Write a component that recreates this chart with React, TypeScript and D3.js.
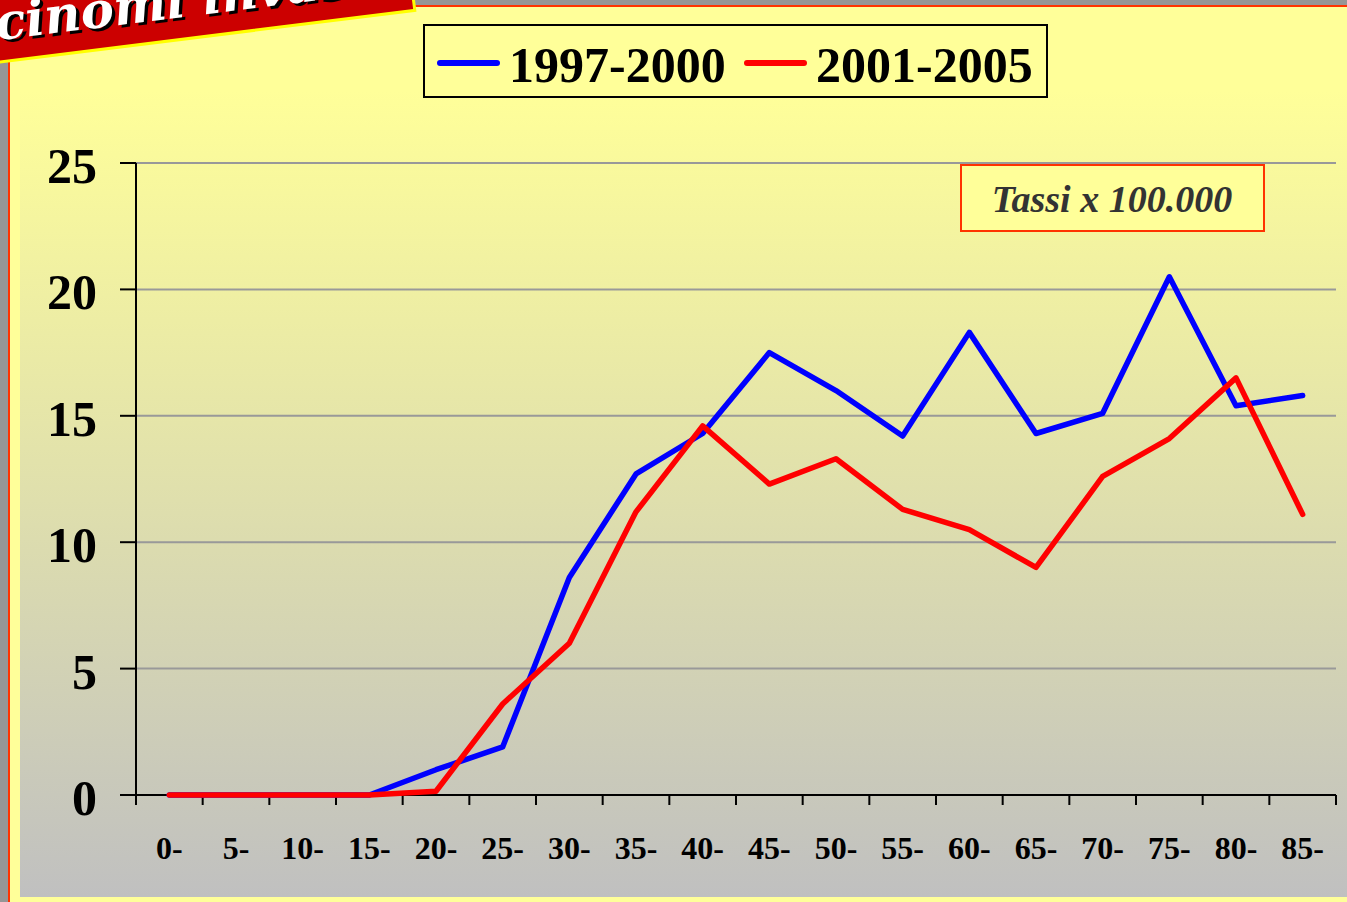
import React from "react";
import * as d3 from "d3";

const ageGroups = ["0-", "5-", "10-", "15-", "20-", "25-", "30-", "35-", "40-", "45-", "50-", "55-", "60-", "65-", "70-", "75-", "80-", "85-"];
const rates1997 = [0, 0, 0, 0, 1.0, 1.9, 8.6, 12.7, 14.3, 17.5, 16.0, 14.2, 18.3, 14.3, 15.1, 20.5, 15.4, 15.8];
const rates2001 = [0, 0, 0, 0, 0.15, 3.6, 6.0, 11.2, 14.6, 12.3, 13.3, 11.3, 10.5, 9.0, 12.6, 14.1, 16.5, 11.1];
const yTicks = [0, 5, 10, 15, 20, 25];
const seriesNames = ["1997-2000", "2001-2005"];
const seriesColors = ["#0000FF", "#FF0000"];

const W = 1347;
const H = 902;
const margins = { top: 163, right: 11, bottom: 107, left: 136 };

const App = () => {
  const xScale = d3
    .scaleBand()
    .domain(ageGroups)
    .range([margins.left, W - margins.right]);

  const yScale = d3
    .scaleLinear()
    .domain([0, 25])
    .range([H - margins.bottom, margins.top]);

  const cx = (i: number) => (xScale(ageGroups[i]) as number) + xScale.bandwidth() / 2;

  const line = d3
    .line<number>()
    .x((_, i) => cx(i))
    .y((d) => yScale(d));

  const series = [rates1997, rates2001];
  const x0 = margins.left;
  const x1 = W - margins.right;
  const y0 = yScale(0);
  const serif = "'Liberation Serif', 'Times New Roman', serif";

  return (
    <svg
      width={W}
      height={H}
      style={{ position: "absolute", left: 0, top: 0 }}
    >
      <defs>
        <linearGradient id="plotBg" x1="0" y1="0" x2="0" y2="1">
          <stop offset="0%" stopColor="#FFFF99" />
          <stop offset="100%" stopColor="#C0C0C0" />
        </linearGradient>
      </defs>
      {/* slide frame */}
      <rect x={0} y={0} width={W} height={H} fill="#969696" />
      <rect x={9} y={6} width={W + 10} height={H + 10} fill="#FFFF99" stroke="#FF3300" strokeWidth={2} />
      <rect x={20} y={90} width={W - 20} height={807} fill="url(#plotBg)" />

      {/* title banner */}
      <g transform="translate(0,62) rotate(-7.1)">
        <rect x={-300} y={-140} width={718} height={140} fill="#CC0000" stroke="#FFFF00" strokeWidth={3} />
        <g fontFamily="'DejaVu Serif', serif" fontWeight="bold" fontStyle="italic" fontSize={50}>
          <text x={3} y={-19} fill="#000">cinomi invasivi</text>
          <text x={0} y={-22} fill="#FFF">cinomi invasivi</text>
          <text x={-1} y={-19} fill="#000" textAnchor="end">Car</text>
          <text x={-4} y={-22} fill="#FFF" textAnchor="end">Car</text>
        </g>
      </g>

      {/* gridlines */}
      {yTicks.filter((t) => t > 0).map((t) => (
        <line key={t} x1={x0} x2={x1} y1={yScale(t)} y2={yScale(t)} stroke="#999999" strokeWidth={2} />
      ))}

      {/* axes */}
      <line x1={x0} x2={x0} y1={yScale(25)} y2={y0 + 10} stroke="#000" strokeWidth={2} />
      <line x1={x0 - 16} x2={x1} y1={y0} y2={y0} stroke="#000" strokeWidth={2} />
      {yTicks.map((t) => (
        <g key={t}>
          <line x1={x0 - 16} x2={x0} y1={yScale(t)} y2={yScale(t)} stroke="#000" strokeWidth={2} />
          <text
            x={x0 - 39}
            y={yScale(t) + 20}
            textAnchor="end"
            fontFamily={serif}
            fontWeight="bold"
            fontSize={50}
          >
            {t}
          </text>
        </g>
      ))}
      {ageGroups.map((g) => (
        <line
          key={g}
          x1={(xScale(g) as number) + xScale.bandwidth()}
          x2={(xScale(g) as number) + xScale.bandwidth()}
          y1={y0}
          y2={y0 + 10}
          stroke="#000"
          strokeWidth={2}
        />
      ))}
      {ageGroups.map((g, i) => (
        <text
          key={g}
          x={cx(i)}
          y={859}
          textAnchor="middle"
          fontFamily={serif}
          fontWeight="bold"
          fontSize={32}
        >
          {g}
        </text>
      ))}

      {/* series */}
      {series.map((s, i) => (
        <path
          key={seriesNames[i]}
          d={line(s) || ""}
          fill="none"
          stroke={seriesColors[i]}
          strokeWidth={5.5}
          strokeLinejoin="round"
          strokeLinecap="round"
        />
      ))}

      {/* legend */}
      <rect x={424} y={25} width={623} height={72} fill="#FFFF99" stroke="#000" strokeWidth={2} />
      {seriesNames.map((name, i) => (
        <g key={name} transform={`translate(${440 + i * 307},0)`}>
          <line x1={0} x2={57} y1={63} y2={63} stroke={seriesColors[i]} strokeWidth={6} strokeLinecap="round" />
          <text x={69} y={82} fontFamily={serif} fontWeight="bold" fontSize={50}>
            {name}
          </text>
        </g>
      ))}

      {/* rate note */}
      <rect x={961} y={165} width={303} height={66} fill="#FFFF99" stroke="#FF3300" strokeWidth={2} />
      <text
        x={1112}
        y={212}
        textAnchor="middle"
        fontFamily={serif}
        fontWeight="bold"
        fontStyle="italic"
        fontSize={38}
        fill="#333333"
      >
        Tassi x 100.000
      </text>
    </svg>
  );
};

export default App;
